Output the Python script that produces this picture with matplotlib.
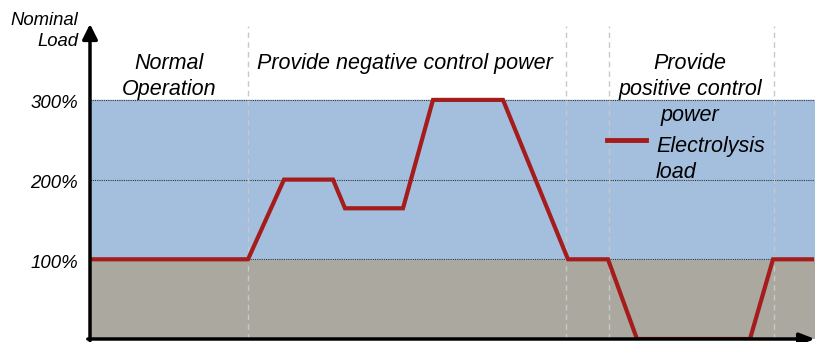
import numpy as np
import matplotlib.pyplot as plt

plt.rcParams['font.family'] = ['Liberation Sans', 'DejaVu Sans']

# electrolysis load profile (time in arbitrary units, load in % of nominal)
time = [0, 158, 194, 243, 255, 313, 343, 413, 478, 518, 547, 660, 683, 722]
load = [100, 100, 200, 200, 164, 164, 300, 300, 100, 100, 0, 0, 100, 100]

phase_bounds = [158, 476, 519, 684]
phase_labels = ["Normal\nOperation", "Provide negative control power",
                "Provide\npositive control\npower"]
phase_centers = [79, 315, 600]
ytick_vals = [100, 200, 300]

W, H = 817, 342
left, right, bottom, top = 90, 815, 339, 24
px = 79.7  # pixels per 100 %

fig = plt.figure(figsize=(W / 100, H / 100), dpi=100)
ax = fig.add_axes([left / W, (H - bottom) / H, (right - left) / W, (bottom - top) / H])
ax.set_xlim(0, right - left)
ax.set_ylim(0, (bottom - top) * 100 / px)


def ypix(p):
    # data y for a pixel row of the figure
    return (bottom - p) * 100 / px


# background bands
ax.axhspan(0, 100, color="#aba8a0", zorder=0)
ax.axhspan(100, 300, color="#a3bfdd", zorder=0)

# reference levels, labels sit slightly below their line
for v in ytick_vals:
    ax.axhline(v, color="#333333", lw=0.8, ls=(0, (1, 1)), zorder=1)
    ax.text(-12, v - 5, f"{v}%", ha="right", va="center", fontsize=13.4, style="italic")

# phase separators
for b in phase_bounds:
    ax.axvline(b, ymax=0.995, color="#c8c8c8", lw=1, ls=(0, (4, 3)), zorder=1)

ax.plot(time, load, color="#a51c1c", lw=3, zorder=3, solid_joinstyle="miter")

for c, lab in zip(phase_centers, phase_labels):
    ax.text(c, ypix(53), lab, ha="center", va="top",
            fontsize=15.5, style="italic", linespacing=1.32)

# legend entry
ax.plot([517, 556], [ypix(140)] * 2, color="#a51c1c", lw=3.5, zorder=3)
ax.text(566, ypix(136), "Electrolysis\nload", ha="left", va="top",
        fontsize=15.5, style="italic", linespacing=1.32)

# axis label
fig.text(78 / W, 1 - 12 / H, "Nominal\nLoad", ha="right", va="top",
         fontsize=13.3, style="italic", linespacing=1.28)

for s in ax.spines.values():
    s.set_visible(False)
ax.set_xticks([])
ax.set_yticks([])

# axes with arrow heads
ax.annotate("", xy=(0, 1), xytext=(0, -0.005), xycoords="axes fraction",
            arrowprops=dict(arrowstyle="-|>,head_length=0.9,head_width=0.45",
                            color="black", lw=2.5, shrinkA=0, shrinkB=0), annotation_clip=False)
ax.annotate("", xy=(1, 0), xytext=(-0.003, 0), xycoords="axes fraction",
            arrowprops=dict(arrowstyle="-|>,head_length=0.9,head_width=0.35",
                            color="black", lw=2.5, shrinkA=0, shrinkB=0), annotation_clip=False)

fig.savefig("out.png", dpi=100)
